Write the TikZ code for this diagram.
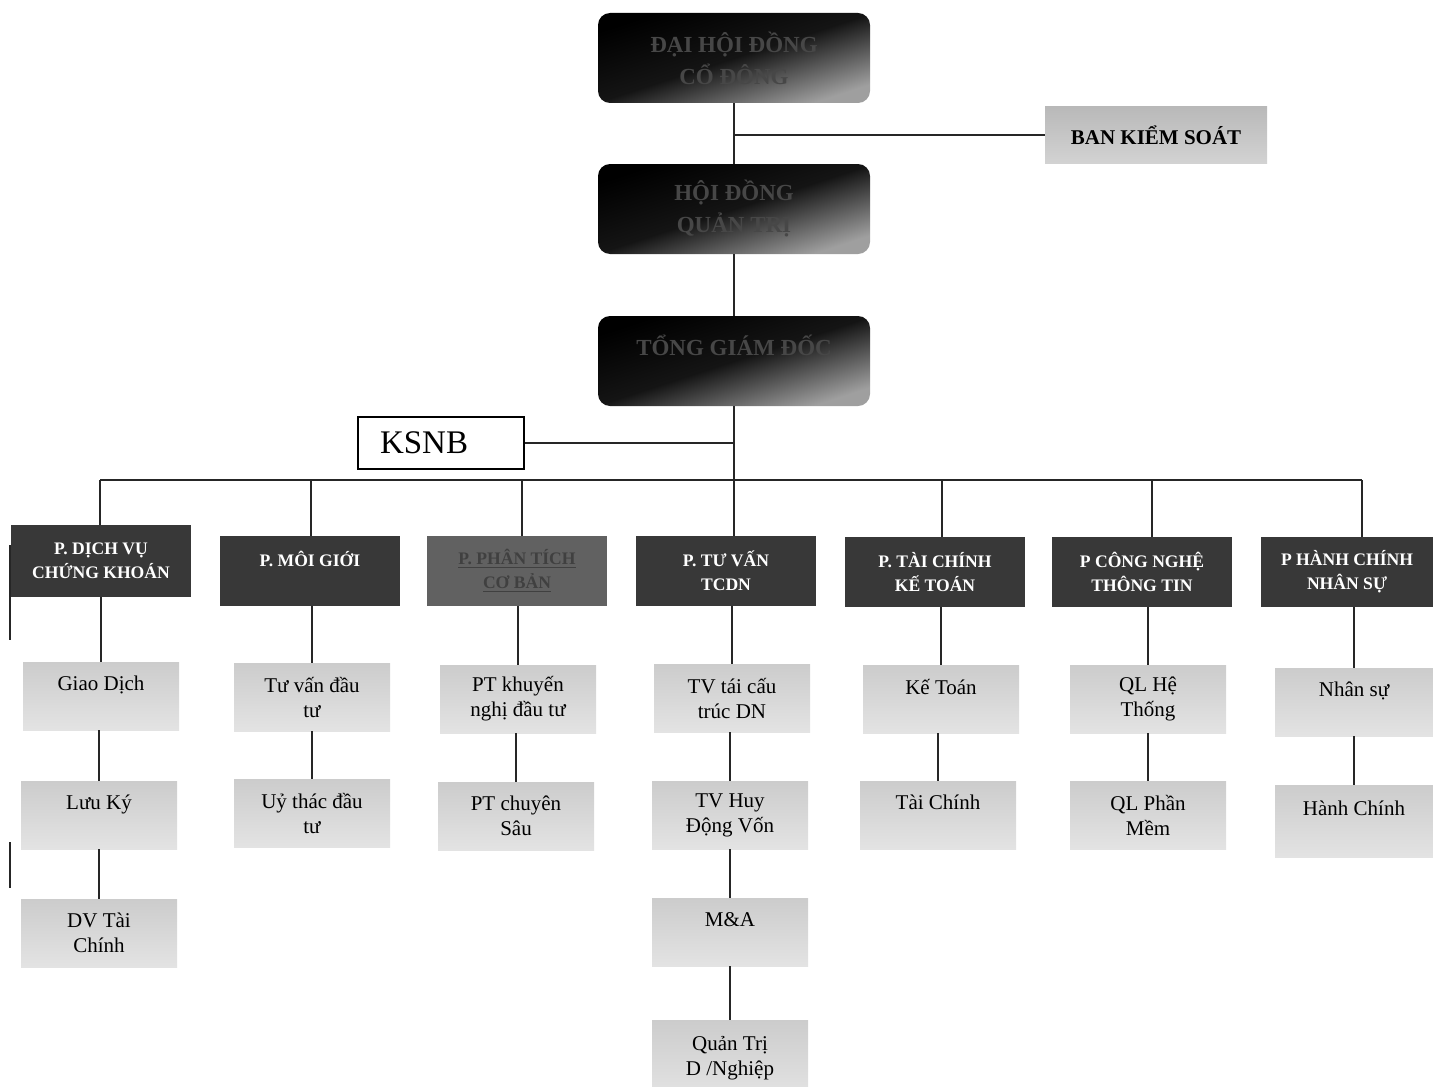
\documentclass[tikz,border=0pt]{standalone}
\usepackage{fontspec}
\setmainfont{Liberation Serif}
\usetikzlibrary{positioning, shadows}
\tikzstyle{bandau} = [rectangle, rounded corners=6pt, minimum width=136pt, minimum height=45pt, inner sep=2pt, align=center, top color=black, bottom color=gray!75, middle color=black!92, shading angle=18, text=black!72, font=\fontsize{11.5}{16}\selectfont\bfseries]
\tikzstyle{bks} = [rectangle, top color=gray!55, bottom color=gray!35, minimum width=111pt, minimum height=28pt, font=\fontsize{10.5}{12}\selectfont\bfseries]
\tikzstyle{ksnb} = [rectangle, draw=black, line width=0.8pt, fill=white, text width=61pt, align=left, inner xsep=11pt, minimum height=26pt, font=\fontsize{16.5}{18}\selectfont]
\tikzstyle{phong} = [rectangle, fill=black!78, minimum width=90pt, minimum height=35pt, inner sep=2pt, align=center, text=white, font=\fontsize{8.8}{12}\selectfont\bfseries]
\tikzstyle{bophan} = [rectangle, top color=gray!40, bottom color=gray!22, minimum width=78pt, minimum height=34pt, inner sep=2pt, align=center, font=\fontsize{10.5}{12.5}\selectfont]
\tikzstyle{duong} = [draw=black!85, line width=0.8pt]

\begin{document}
\begin{tikzpicture}[x=0.5pt, y=-0.5pt]
	\useasboundingbox (0,0) rectangle (1433,1086);
	% lanh dao
	\node[bandau] (daihoi) at (734,58) {ĐẠI HỘI ĐỒNG\\CỔ ĐÔNG};
	\node[bandau] (hdqt) at (734,209) {HỘI ĐỒNG\\QUẢN TRỊ};
	\node[bandau] (tgd) at (734,361) {TỔNG GIÁM ĐỐC\\\mbox{}};
	\node[bks] (bks) at (1156,135) {BAN KIỂM SOÁT};
	\node[ksnb] (ksnb) at (441,443) {KSNB};
	% cac phong
	\node[phong, minimum height=36pt] (dichvu) at (101,561) {P. DỊCH VỤ\\CHỨNG KHOÁN};
	\node[phong] (moigioi) at (310,571) {P. MÔI GIỚI\\\mbox{}};
	\node[phong, fill=black!62, text=black!75] (phantich) at (517,571) {\underline{P. PHÂN TÍCH}\\\underline{CƠ BẢN}};
	\node[phong] (tuvan) at (726,571) {P. TƯ VẤN\\TCDN};
	\node[phong] (taichinh) at (935,572) {P. TÀI CHÍNH\\KẾ TOÁN};
	\node[phong] (congnghe) at (1142,572) {P CÔNG NGHỆ\\THÔNG TIN};
	\node[phong, minimum width=86pt] (hanhchinh) at (1347,572) {P HÀNH CHÍNH\\NHÂN SỰ};
	% cac bo phan
	\node[bophan] (giaodich) at (101,696) {Giao Dịch\\\mbox{}};
	\node[bophan] (luuky) at (99,815) {Lưu Ký\\\mbox{}};
	\node[bophan] (dvtc) at (99,933) {DV Tài\\Chính};
	\node[bophan] (tuvandt) at (312,697) {Tư vấn đầu\\tư};
	\node[bophan] (uythac) at (312,813) {Uỷ thác đầu\\tư};
	\node[bophan] (khuyennghi) at (518,699) {PT khuyến\\nghị đầu tư};
	\node[bophan] (chuyensau) at (516,816) {PT chuyên\\Sâu};
	\node[bophan] (taicautruc) at (732,698) {TV tái cấu\\trúc DN};
	\node[bophan] (huydong) at (730,815) {TV Huy\\Động Vốn};
	\node[bophan] (mua) at (730,932) {M\&A\\\mbox{}};
	\node[bophan, minimum height=38pt] (quantri) at (730,1058) {Quản Trị\\D /Nghiệp};
	\node[bophan] (ketoan) at (941,699) {Kế Toán\\\mbox{}};
	\node[bophan] (tcchinh) at (938,815) {Tài Chính\\\mbox{}};
	\node[bophan] (qlht) at (1148,699) {QL Hệ\\Thống};
	\node[bophan] (qlpm) at (1148,815) {QL Phần\\Mềm};
	\node[bophan, minimum width=79pt] (nhansu) at (1354,702) {Nhân sự\\\mbox{}};
	\node[bophan, minimum width=79pt, minimum height=36pt] (hcchinh) at (1354,821) {Hành Chính\\\mbox{}};
	% duong noi
	\draw[duong] (daihoi) -- (hdqt);
	\draw[duong] (hdqt) -- (tgd);
	\draw[duong] (bks.west) -- (bks.west -| daihoi.south);
	\draw[duong] (ksnb.east) -- (ksnb.east -| tgd.south);
	\draw[duong] (tgd.south) -- (tgd.south |- tuvan.north);
	\coordinate (bus1) at (100,480);
	\coordinate (bus2) at (311,480);
	\coordinate (bus3) at (522,480);
	\coordinate (bus5) at (942,480);
	\coordinate (bus6) at (1152,480);
	\coordinate (bus7) at (1362,480);
	\draw[duong] (bus1) -- (bus7);
	\draw[duong] (bus1) -- (bus1 |- dichvu.north);
	\draw[duong] (bus2) -- (bus2 |- moigioi.north);
	\draw[duong] (bus3) -- (bus3 |- phantich.north);
	\draw[duong] (bus5) -- (bus5 |- taichinh.north);
	\draw[duong] (bus6) -- (bus6 |- congnghe.north);
	\draw[duong] (bus7) -- (bus7 |- hanhchinh.north);
	\draw[duong] (giaodich.north) -- (giaodich.north |- dichvu.south);
	\draw[duong] (luuky.north) -- (luuky.north |- giaodich.south);
	\draw[duong] (dvtc.north) -- (dvtc.north |- luuky.south);
	\draw[duong] (tuvandt.north) -- (tuvandt.north |- moigioi.south);
	\draw[duong] (uythac.north) -- (uythac.north |- tuvandt.south);
	\draw[duong] (khuyennghi.north) -- (khuyennghi.north |- phantich.south);
	\draw[duong] (chuyensau.north) -- (chuyensau.north |- khuyennghi.south);
	\draw[duong] (taicautruc.north) -- (taicautruc.north |- tuvan.south);
	\draw[duong] (huydong.north) -- (huydong.north |- taicautruc.south);
	\draw[duong] (mua.north) -- (mua.north |- huydong.south);
	\draw[duong] (quantri.north) -- (quantri.north |- mua.south);
	\draw[duong] (ketoan.north) -- (ketoan.north |- taichinh.south);
	\draw[duong] (tcchinh.north) -- (tcchinh.north |- ketoan.south);
	\draw[duong] (qlht.north) -- (qlht.north |- congnghe.south);
	\draw[duong] (qlpm.north) -- (qlpm.north |- qlht.south);
	\draw[duong] (nhansu.north) -- (nhansu.north |- hanhchinh.south);
	\draw[duong] (hcchinh.north) -- (hcchinh.north |- nhansu.south);
	% vach le ben trai
	\draw[duong] (10,545) -- (10,640);
	\draw[duong] (10,842) -- (10,888);
\end{tikzpicture}
\end{document}
